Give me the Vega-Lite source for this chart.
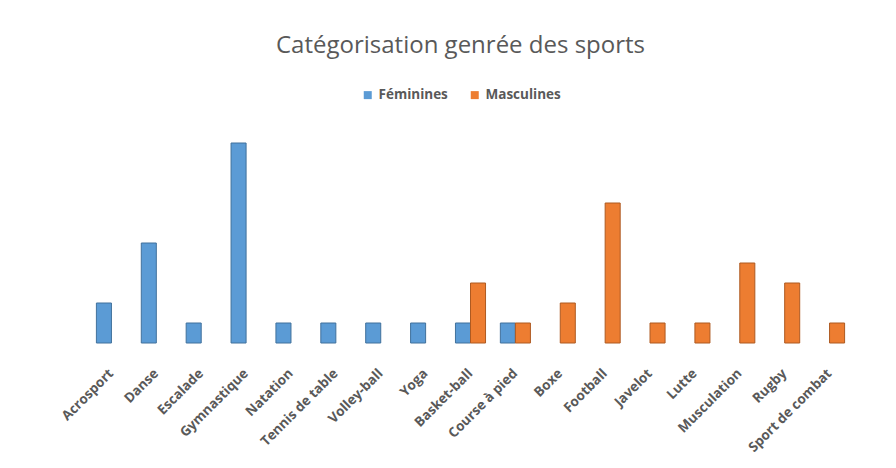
{
  "$schema": "https://vega.github.io/schema/vega-lite/v6.json",
  "autosize": "none",
  "width": 763,
  "height": 200,
  "padding": {"left": 89, "top": 143, "right": 44, "bottom": 125},
  "background": "white",
  "title": {
    "text": "Catégorisation genrée des sports",
    "anchor": "middle",
    "dx": -10,
    "offset": 30,
    "fontSize": 24,
    "font": "Open Sans",
    "fontWeight": "normal",
    "color": "#595959"
  },
  "data": {
    "values": [
      {"sport": "Acrosport", "genre": "Féminines", "n": 2},
      {"sport": "Danse", "genre": "Féminines", "n": 5},
      {"sport": "Escalade", "genre": "Féminines", "n": 1},
      {"sport": "Gymnastique", "genre": "Féminines", "n": 10},
      {"sport": "Natation", "genre": "Féminines", "n": 1},
      {"sport": "Tennis de table", "genre": "Féminines", "n": 1},
      {"sport": "Volley-ball", "genre": "Féminines", "n": 1},
      {"sport": "Yoga", "genre": "Féminines", "n": 1},
      {"sport": "Basket-ball", "genre": "Féminines", "n": 1},
      {"sport": "Basket-ball", "genre": "Masculines", "n": 3},
      {"sport": "Course à pied", "genre": "Féminines", "n": 1},
      {"sport": "Course à pied", "genre": "Masculines", "n": 1},
      {"sport": "Boxe", "genre": "Masculines", "n": 2},
      {"sport": "Football", "genre": "Masculines", "n": 7},
      {"sport": "Javelot", "genre": "Masculines", "n": 1},
      {"sport": "Lutte", "genre": "Masculines", "n": 1},
      {"sport": "Musculation", "genre": "Masculines", "n": 4},
      {"sport": "Rugby", "genre": "Masculines", "n": 3},
      {"sport": "Sport de combat", "genre": "Masculines", "n": 1}
    ]
  },
  "mark": {"type": "bar", "strokeWidth": 1},
  "encoding": {
    "x": {
      "field": "sport",
      "type": "nominal",
      "sort": ["Acrosport", "Danse", "Escalade", "Gymnastique", "Natation", "Tennis de table", "Volley-ball", "Yoga", "Basket-ball", "Course à pied", "Boxe", "Football", "Javelot", "Lutte", "Musculation", "Rugby", "Sport de combat"],
      "scale": {"paddingInner": 0.33, "paddingOuter": 0.165},
      "axis": {
        "title": null,
        "domain": false,
        "ticks": false,
        "labelAngle": -45,
        "labelAlign": "right",
        "labelBaseline": "middle",
        "labelFont": "Open Sans",
        "labelFontWeight": "bold",
        "labelFontSize": 13.5,
        "labelColor": "#595959",
        "labelPadding": 28
      }
    },
    "xOffset": {"field": "genre", "type": "nominal", "sort": ["Féminines", "Masculines"]},
    "y": {
      "field": "n",
      "type": "quantitative",
      "scale": {"domain": [0, 10]},
      "axis": null
    },
    "color": {
      "field": "genre",
      "type": "nominal",
      "scale": {"domain": ["Féminines", "Masculines"], "range": ["#5B9BD5", "#ED7D31"]},
      "legend": {
        "title": null,
        "orient": "none",
        "direction": "horizontal",
        "legendX": 272,
        "legendY": -55,
        "symbolType": "square",
        "symbolSize": 64,
        "symbolStrokeWidth": 0,
        "labelFont": "Open Sans",
        "labelFontSize": 13.5,
        "labelFontWeight": "bold",
        "labelColor": "#595959",
        "columnPadding": 20,
        "labelOffset": 4
      }
    },
    "stroke": {
      "field": "genre",
      "type": "nominal",
      "scale": {"domain": ["Féminines", "Masculines"], "range": ["#41719C", "#AE5A21"]},
      "legend": null
    }
  },
  "config": {"view": {"stroke": null}}
}
